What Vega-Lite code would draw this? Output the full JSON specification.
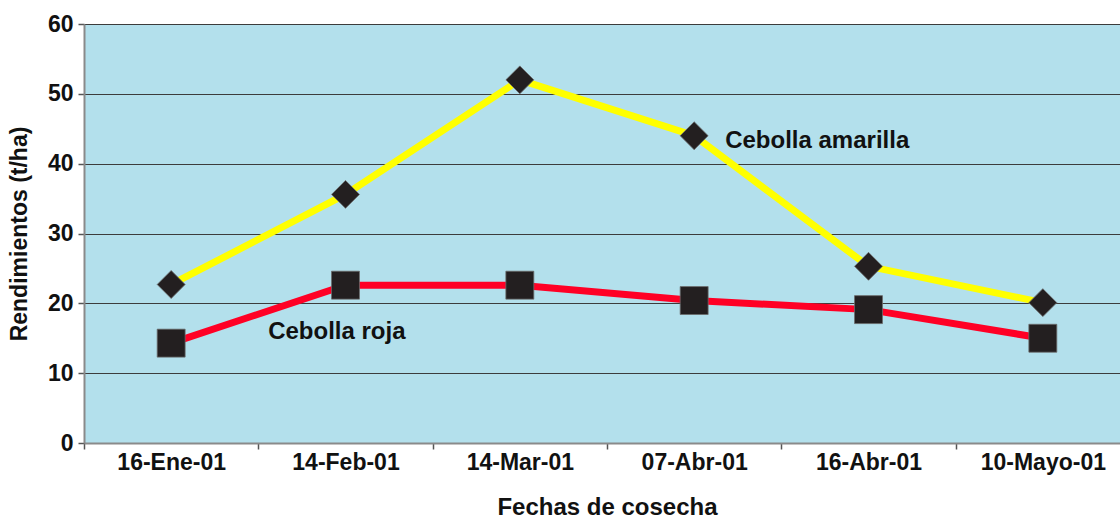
{
  "$schema": "https://vega.github.io/schema/vega-lite/v6.json",
  "width": 1046,
  "height": 419,
  "autosize": {"type": "none"},
  "padding": {"left": 84, "top": 24, "right": -10, "bottom": 75},
  "background": "#ffffff",
  "config": {
    "view": {"fill": "#b3e0ec", "stroke": null},
    "font": "Liberation Sans",
    "axis": {
      "labelFont": "Liberation Sans",
      "labelFontWeight": "bold",
      "labelFontSize": 23,
      "labelColor": "#111111",
      "titleFont": "Liberation Sans",
      "titleFontWeight": "bold",
      "titleFontSize": 23,
      "titleColor": "#111111",
      "domainColor": "#8a8a8a",
      "domainWidth": 2,
      "tickColor": "#555555",
      "tickWidth": 1.5,
      "tickSize": 6,
      "gridColor": "#3c3c3c",
      "gridWidth": 1,
      "gridOpacity": 1
    }
  },
  "data": {
    "values": [
      {"fecha": "16-Ene-01", "serie": "Cebolla amarilla", "rendimiento": 22.7},
      {"fecha": "14-Feb-01", "serie": "Cebolla amarilla", "rendimiento": 35.6},
      {"fecha": "14-Mar-01", "serie": "Cebolla amarilla", "rendimiento": 52.0},
      {"fecha": "07-Abr-01", "serie": "Cebolla amarilla", "rendimiento": 44.0},
      {"fecha": "16-Abr-01", "serie": "Cebolla amarilla", "rendimiento": 25.3},
      {"fecha": "10-Mayo-01", "serie": "Cebolla amarilla", "rendimiento": 20.1},
      {"fecha": "16-Ene-01", "serie": "Cebolla roja", "rendimiento": 14.3},
      {"fecha": "14-Feb-01", "serie": "Cebolla roja", "rendimiento": 22.6},
      {"fecha": "14-Mar-01", "serie": "Cebolla roja", "rendimiento": 22.6},
      {"fecha": "07-Abr-01", "serie": "Cebolla roja", "rendimiento": 20.4},
      {"fecha": "16-Abr-01", "serie": "Cebolla roja", "rendimiento": 19.1},
      {"fecha": "10-Mayo-01", "serie": "Cebolla roja", "rendimiento": 15.0}
    ]
  },
  "encoding": {
    "x": {
      "field": "fecha",
      "type": "nominal",
      "sort": null,
      "bandPosition": 0.5,
      "scale": {"type": "band", "paddingInner": 0, "paddingOuter": 0},
      "axis": {
        "title": "Fechas de cosecha",
        "titleFontSize": 24,
        "labelAngle": 0,
        "tickBand": "extent",
        "grid": false,
        "labelPadding": 2,
        "titlePadding": 21
      }
    },
    "y": {
      "field": "rendimiento",
      "type": "quantitative",
      "scale": {"domain": [0, 60], "nice": false},
      "axis": {
        "title": "Rendimientos (t/ha)",
        "values": [0, 10, 20, 30, 40, 50, 60],
        "labelPadding": 5,
        "titlePadding": 16
      }
    }
  },
  "layer": [
    {
      "mark": {"type": "line", "strokeWidth": 7},
      "encoding": {
        "color": {
          "field": "serie",
          "type": "nominal",
          "scale": {"domain": ["Cebolla amarilla", "Cebolla roja"], "range": ["#ffff00", "#ff0025"]},
          "legend": null
        }
      }
    },
    {
      "mark": {"type": "point", "filled": true, "size": 780, "color": "#231f20", "opacity": 1, "stroke": "#6b6b6b", "strokeWidth": 0.8},
      "encoding": {
        "shape": {
          "field": "serie",
          "type": "nominal",
          "scale": {"domain": ["Cebolla amarilla", "Cebolla roja"], "range": ["diamond", "square"]},
          "legend": null
        }
      }
    },
    {
      "transform": [{"filter": "datum.serie == 'Cebolla amarilla' && datum.fecha == '07-Abr-01'"}],
      "mark": {"type": "text", "align": "left", "baseline": "middle", "dx": 31, "dy": 5, "fontSize": 24, "fontWeight": "bold", "color": "#111111"},
      "encoding": {"text": {"field": "serie"}}
    },
    {
      "transform": [{"filter": "datum.serie == 'Cebolla roja' && datum.fecha == '16-Ene-01'"}],
      "mark": {"type": "text", "align": "left", "baseline": "middle", "dx": 97, "dy": -11, "fontSize": 24, "fontWeight": "bold", "color": "#111111"},
      "encoding": {"text": {"field": "serie"}}
    }
  ]
}
